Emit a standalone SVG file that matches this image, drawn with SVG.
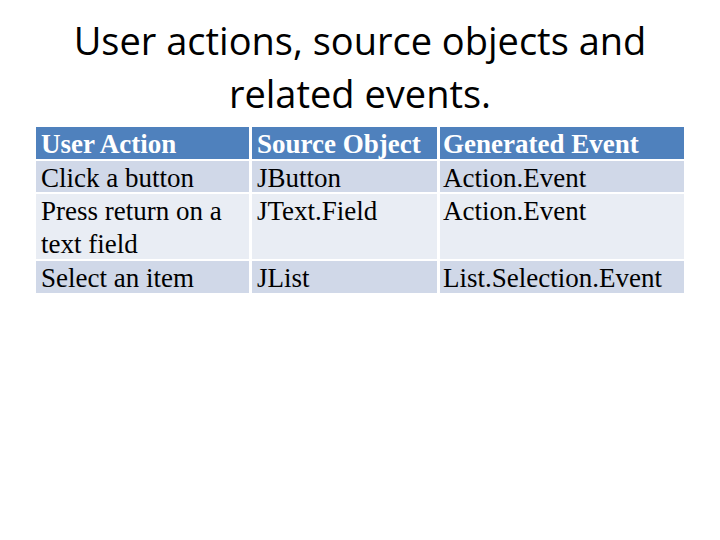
<svg xmlns="http://www.w3.org/2000/svg" width="720" height="540" viewBox="0 0 720 540">
<style>
.t{font-family:"Liberation Serif",serif;font-size:27px;fill:#000}
.h{font-family:"Liberation Serif",serif;font-size:27px;font-weight:bold;fill:#fff}
.ti{font-family:"Open Sans","Liberation Sans",sans-serif;font-size:38px;fill:#000;text-anchor:middle}
.hd{fill:#4F81BD}.a{fill:#D0D8E8}.b{fill:#E9EDF4}
</style>
<rect width="720" height="540" fill="#fff"/>
<g id="title">
<text class="ti" x="360" y="55">User actions, source objects and</text>
<text class="ti" x="360" y="108">related events.</text>
</g>
<g id="table">
<rect class="hd" x="36" y="127" width="213" height="32"/>
<rect class="hd" x="252" y="127" width="185" height="32"/>
<rect class="hd" x="440" y="127" width="244" height="32"/>
<rect class="a" x="36" y="161" width="213" height="31"/>
<rect class="a" x="252" y="161" width="185" height="31"/>
<rect class="a" x="440" y="161" width="244" height="31"/>
<rect class="b" x="36" y="194" width="213" height="65"/>
<rect class="b" x="252" y="194" width="185" height="65"/>
<rect class="b" x="440" y="194" width="244" height="65"/>
<rect class="a" x="36" y="261" width="213" height="32"/>
<rect class="a" x="252" y="261" width="185" height="32"/>
<rect class="a" x="440" y="261" width="244" height="32"/>
<text class="h" x="41" y="153">User Action</text>
<text class="h" x="257" y="153">Source Object</text>
<text class="h" x="443" y="153">Generated Event</text>
<text class="t" x="41" y="187">Click a button</text>
<text class="t" x="257" y="187">JButton</text>
<text class="t" x="443" y="187">Action.Event</text>
<text class="t" x="41" y="220">Press return on a</text>
<text class="t" x="41" y="253">text field</text>
<text class="t" x="257" y="220">JText.Field</text>
<text class="t" x="443" y="220">Action.Event</text>
<text class="t" x="41" y="287">Select an item</text>
<text class="t" x="257" y="287">JList</text>
<text class="t" x="443" y="287">List.Selection.Event</text>
</g>
</svg>
